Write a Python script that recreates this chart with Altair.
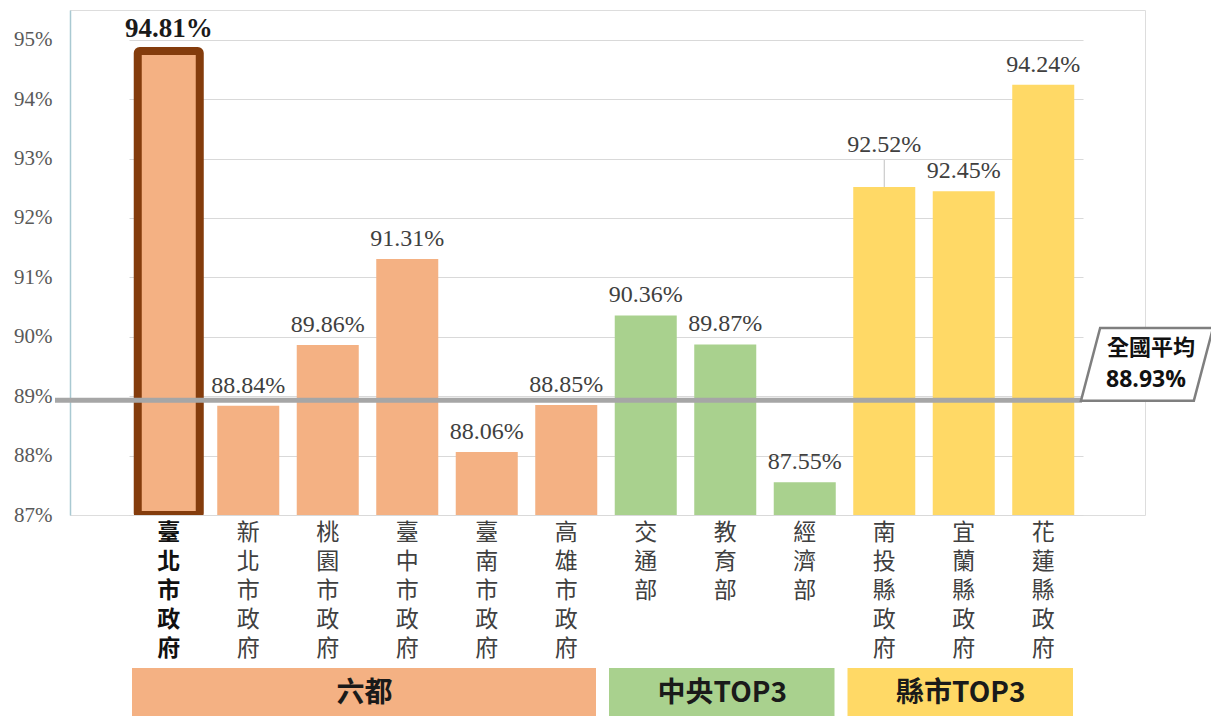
import altair as alt
import pandas as pd

categories = ["臺北市政府", "新北市政府", "桃園市政府", "臺中市政府", "臺南市政府", "高雄市政府",
              "交通部", "教育部", "經濟部", "南投縣政府", "宜蘭縣政府", "花蓮縣政府"]
values = [94.81, 88.84, 89.86, 91.31, 88.06, 88.85, 90.36, 89.87, 87.55, 92.52, 92.45, 94.24]
groups = ["六都"] * 6 + ["中央TOP3"] * 3 + ["縣市TOP3"] * 3
group_names = ["六都", "中央TOP3", "縣市TOP3"]
group_colors = ["#F4B183", "#A9D18E", "#FFD966"]
y_ticks = [87, 88, 89, 90, 91, 92, 93, 94, 95]
national_avg = 88.93
avg_title = "全國平均"
highlight = "臺北市政府"
raised_label = "南投縣政府"

df = pd.DataFrame({"cat": categories, "value": values, "group": groups})
counts = [groups.count(g) for g in group_names]
starts = [sum(counts[:i]) for i in range(len(counts))]
gdf = pd.DataFrame({"group": group_names, "start": starts,
                    "end": [s + c for s, c in zip(starts, counts)]})
avg_df = pd.DataFrame({"avg": [national_avg], "title": [avg_title]})

W, H = 1075, 505
CJK = "Noto Sans CJK TC"
SERIF = "'Liberation Serif', 'DejaVu Serif', serif"

xscale = alt.Scale(domain=categories, range=[59, 1013], paddingInner=0.22, paddingOuter=0.11)
yscale = alt.Scale(domain=[87, 95.5], nice=False, zero=False)

x_enc = alt.X("cat:N", scale=xscale, sort=categories, title=None,
              axis=alt.Axis(labelExpr="split(datum.label, '')", labelAngle=0,
                            labelFont=CJK, labelFontSize=23, labelLineHeight=29,
                            labelBaseline="top", labelPadding=6, labelOverlap=False,
                            labelColor={"condition": {"test": f"datum.value === '{highlight}'", "value": "#111111"}, "value": "#404040"},
                            labelFontWeight={"condition": {"test": f"datum.value === '{highlight}'", "value": "bold"}, "value": "normal"},
                            ticks=False, domain=False, grid=False))
y_enc = alt.Y("value:Q", scale=yscale, title=None,
              axis=alt.Axis(values=y_ticks, labelExpr="datum.value + '%'", labelFont=SERIF,
                            labelFontSize=21, labelColor="#595959", labelPadding=18, ticks=False,
                            grid=True, gridColor="#d9d9d9", gridWidth=1,
                            domain=True, domainColor="#a9c9d2", domainWidth=1.5))

color_enc = alt.Color("group:N", scale=alt.Scale(domain=group_names, range=group_colors), legend=None)

base = alt.Chart(df)

bars = base.transform_filter(f"datum.cat !== '{highlight}'").mark_bar().encode(
    x=x_enc, y=y_enc, y2=alt.datum(87), color=color_enc)

hi_bar = base.transform_filter(f"datum.cat === '{highlight}'").mark_bar(
    stroke="#843C0C", strokeWidth=8, clip=True, cornerRadius=2).encode(
    x=alt.X("cat:N", sort=categories), y=alt.Y("value:Q"), y2=alt.datum(87), color=color_enc)

labels = base.transform_filter(
    f"datum.cat !== '{highlight}' && datum.cat !== '{raised_label}'").transform_calculate(
    lbl="format(datum.value, '.2f') + '%'").mark_text(
    font=SERIF, fontSize=24, color="#404040", baseline="alphabetic", dy=-13).encode(
    x=alt.X("cat:N", sort=categories), y="value:Q", text="lbl:N")

raised = base.transform_filter(f"datum.cat === '{raised_label}'").transform_calculate(
    lbl="format(datum.value, '.2f') + '%'").mark_text(
    font=SERIF, fontSize=24, color="#404040", baseline="alphabetic", dy=-35).encode(
    x=alt.X("cat:N", sort=categories), y="value:Q", text="lbl:N")

leader = base.transform_filter(f"datum.cat === '{raised_label}'").mark_tick(
    orient="vertical", size=27, thickness=1, color="#a6a6a6", yOffset=-13.5).encode(
    x=alt.X("cat:N", sort=categories), y="value:Q")

hi_label = base.transform_filter(f"datum.cat === '{highlight}'").transform_calculate(
    lbl="format(datum.value, '.2f') + '%'").mark_text(
    font=SERIF, fontSize=27, fontWeight="bold", color="#1a1a1a", baseline="alphabetic", dy=-14).encode(
    x=alt.X("cat:N", sort=categories), y="value:Q", text="lbl:N")

avg_base = alt.Chart(avg_df)
avg_rule = avg_base.mark_rule(color="#a6a6a6", strokeWidth=5).encode(
    x=alt.value(-15), x2=alt.value(1012), y=alt.Y("avg:Q"))

box_path = "M -1 0.55 L -0.71 -0.55 L 1 -0.55 L 0.71 0.55 Z"
avg_box = avg_base.mark_point(shape=box_path, size=132 * 132, filled=True, fill="white",
                              stroke="#7f7f7f", strokeWidth=2.5, opacity=1, yOffset=-36).encode(
    x=alt.value(1077), y=alt.Y("avg:Q"))

avg_t1 = avg_base.mark_text(font=CJK, fontSize=22, fontWeight="bold", color="#111111",
                            yOffset=-52).encode(x=alt.value(1081), y=alt.Y("avg:Q"), text="title:N")
avg_t2 = avg_base.transform_calculate(lbl="format(datum.avg, '.2f') + '%'").mark_text(
    font="Open Sans", fontSize=23, fontWeight="bold", color="#111111", yOffset=-20).encode(
    x=alt.value(1076), y=alt.Y("avg:Q"), text="lbl:N")

main = alt.layer(bars, hi_bar, avg_rule, labels, raised, leader, hi_label, avg_box, avg_t1, avg_t2)

sscale = alt.Scale(domain=[0, len(categories)], range=[59, 1013], nice=False, zero=False)
strip = alt.Chart(gdf).mark_rect(xOffset=3, x2Offset=-10).encode(
    x=alt.X("start:Q", scale=sscale, axis=None), x2="end:Q",
    y=alt.value(658), y2=alt.value(706),
    color=alt.Color("group:N", scale=alt.Scale(domain=group_names, range=group_colors), legend=None))
strip_text = alt.Chart(gdf).transform_calculate(mid="(datum.start + datum.end) / 2").mark_text(
    font=CJK, fontSize=28, fontWeight="bold", color="#1a1a1a", dx=-3).encode(
    x=alt.X("mid:Q", scale=sscale, axis=None), y=alt.value(684), text="group:N")

chart = alt.layer(main, strip, strip_text).resolve_scale(x="independent", color="independent").properties(
    width=W, height=H, autosize="none",
    padding={"left": 62, "top": 2, "right": 66, "bottom": 201}
).configure_view(stroke=None).configure(background="white")

chart.save("out.html", embed_options={"renderer": "svg", "actions": False})
